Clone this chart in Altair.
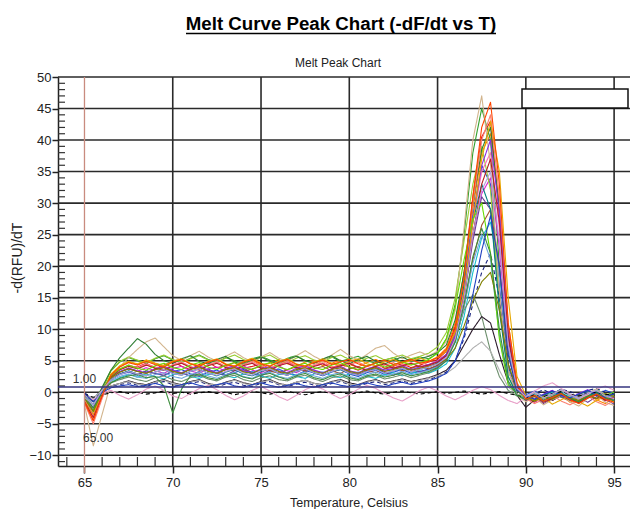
import altair as alt
import pandas as pd

temps = [65.0, 65.5, 66.0, 66.5, 67.0, 67.5, 68.0, 68.5, 69.0, 69.5, 70.0, 70.5, 71.0, 71.5, 72.0,
         72.5, 73.0, 73.5, 74.0, 74.5, 75.0, 75.5, 76.0, 76.5, 77.0, 77.5, 78.0, 78.5, 79.0, 79.5,
         80.0, 80.5, 81.0, 81.5, 82.0, 82.5, 83.0, 83.5, 84.0, 84.5, 85.0, 85.5, 86.0, 86.5, 87.0,
         87.5, 88.0, 88.5, 89.0, 89.5, 90.0, 90.5, 91.0, 91.5, 92.0, 92.5, 93.0, 93.5, 94.0, 94.5, 95.0]

c01 = [-1.5, -4.5, -0.5, 2.5, 3.6,
       4.2, 4.0, 4.6, 3.8, 4.3, 4.9,
       4.1, 3.6, 4.4, 4.8, 3.9, 4.2, 4.7, 3.8, 4.1, 4.5,
       3.7, 4.3, 4.9, 4.0, 3.6, 4.2, 4.6, 3.9, 4.4, 4.0,
       3.5, 4.1, 4.6, 3.8, 4.2, 4.5, 3.9, 4.3, 4.8, 5.2,
       6.5, 10.5, 19.0, 31.0, 40.5, 43.0, 28.0, 8.5, 1.0,
       -1.2, -0.5, -1.0, -0.3, -0.8, -1.4, -0.6, -0.2, -1.0, -0.7, -1.3]
c02 = [-1.2, -4.0, -0.2, 2.8, 4.1,
       4.8, 4.4, 5.1, 4.6, 4.2, 4.9,
       5.3, 4.5, 4.1, 4.8, 5.2, 4.4, 4.0, 4.7, 5.1, 4.3,
       4.6, 5.2, 4.5, 4.1, 4.8, 5.0, 4.2, 4.6, 5.1, 4.4,
       4.0, 4.7, 5.2, 4.5, 4.1, 4.8, 5.3, 4.6, 4.9, 5.6,
       7.0, 11.0, 18.5, 29.0, 38.0, 41.0, 30.0, 11.0, 1.5,
       -0.8, -1.5, -0.6, -1.1, -0.4, -1.6, -0.9, -0.3, -1.2, -1.8, -0.8]
c03 = [-0.8, -3.0, 0.5, 3.4, 4.8,
       5.5, 5.0, 4.6, 5.3, 5.8, 5.1,
       4.7, 5.4, 5.9, 5.2, 4.8, 5.5, 5.0, 4.6, 5.3, 5.7,
       5.1, 4.7, 5.4, 5.8, 5.0, 4.6, 5.2, 5.6, 4.9, 5.3,
       5.7, 5.0, 4.6, 5.1, 5.5, 4.8, 5.2, 5.6, 5.3, 6.2,
       8.5, 14.0, 25.0, 38.0, 45.0, 40.0, 20.0, 4.5, 0.2,
       -0.9, -0.3, -1.2, -0.6, -0.1, -0.9, -1.4, -0.5, -0.2, -1.0, -0.4]
c04 = [-0.5, -2.0, 0.3, 2.0, 2.8,
       3.2, 2.7, 3.4, 3.0, 2.6, 3.3,
       3.6, 2.9, 2.5, 3.2, 3.5, 2.8, 3.1, 3.6, 2.9, 2.6,
       3.3, 3.7, 3.0, 2.7, 3.4, 3.1, 2.6, 3.2, 3.6, 2.9,
       2.5, 3.1, 3.5, 2.8, 3.2, 3.6, 3.0, 3.3, 3.7, 4.2,
       5.5, 9.0, 17.0, 28.0, 36.0, 33.0, 17.0, 4.0, 0.5,
       -0.4, 0.2, -0.7, -0.2, 0.4, -0.3, -0.8, 0.1, -0.5, 0.3, -0.2]
c05 = [-1.0, -3.5, -0.2, 2.2, 3.2,
       3.7, 3.3, 3.9, 3.4, 3.0, 3.8,
       4.1, 3.4, 3.0, 3.7, 4.0, 3.3, 3.6, 4.2, 3.5, 3.1,
       3.8, 4.2, 3.4, 3.1, 3.8, 3.5, 3.0, 3.7, 4.1, 3.3,
       3.0, 3.6, 4.0, 3.3, 3.7, 4.1, 3.5, 3.8, 4.2, 4.6,
       5.8, 9.0, 15.5, 25.0, 31.5, 34.0, 23.0, 7.0, 0.8,
       -1.0, -1.6, -0.8, -1.3, -0.5, -1.1, -1.7, -0.9, -0.4, -1.2, -0.6]
c06 = [-0.6, -2.5, 0.0, 1.6, 2.3,
       2.8, 2.4, 2.9, 2.5, 2.1, 2.8,
       3.1, 2.5, 2.2, 2.8, 3.2, 2.6, 2.3, 2.9, 3.3, 2.6,
       2.2, 2.8, 3.1, 2.5, 2.2, 2.9, 3.2, 2.6, 2.3, 2.9,
       3.2, 2.5, 2.2, 2.8, 3.1, 2.6, 3.0, 3.4, 3.0, 3.6,
       4.5, 7.0, 12.0, 19.0, 24.5, 27.0, 19.0, 6.5, 0.8,
       -0.6, -1.2, -0.5, 0.0, -0.8, -0.3, -1.0, -0.4, 0.2, -0.6, -1.1]
c07 = [-0.4, -2.0, 0.4, 2.1, 2.9,
       3.3, 2.8, 3.4, 3.0, 2.7, 3.4,
       3.0, 2.6, 3.3, 3.7, 3.0, 2.7, 3.4, 3.8, 3.1, 2.8,
       3.5, 3.1, 2.7, 3.4, 3.8, 3.0, 2.7, 3.3, 3.7, 3.1,
       2.8, 3.4, 3.8, 3.1, 2.7, 3.3, 3.7, 3.2, 3.6, 4.0,
       5.2, 8.5, 15.0, 24.0, 31.0, 29.0, 15.0, 3.5, -0.2,
       -1.4, -0.7, -1.8, -1.0, -0.4, -1.3, -0.8, -1.6, -0.7, -1.1, -1.9]
c08 = [-1.0, -3.0, 0.6, 3.5, 4.9,
       5.6, 5.1, 4.7, 5.4, 5.9, 5.2,
       4.8, 5.3, 5.8, 5.1, 4.7, 5.4, 5.9, 5.2, 4.8, 5.5,
       5.9, 5.1, 4.7, 5.4, 5.8, 5.1, 4.8, 5.5, 5.9, 5.2,
       4.8, 5.4, 5.8, 5.1, 5.5, 5.9, 5.3, 5.7, 6.2, 7.2,
       9.5, 15.0, 24.0, 33.0, 39.0, 32.0, 14.0, 2.5, -0.3,
       -0.8, -0.2, -1.0, -0.4, 0.3, -0.5, -1.1, -0.3, 0.4, -0.6, -0.1]
c09 = [-1.3, -4.0, -0.4, 2.6, 3.7,
       4.3, 3.9, 4.5, 4.0, 3.6, 4.4,
       4.8, 4.1, 3.7, 4.4, 4.8, 4.0, 3.7, 4.3, 4.7, 4.0,
       3.6, 4.3, 4.7, 4.0, 3.6, 4.2, 4.6, 3.9, 4.3, 4.7,
       4.0, 3.6, 4.2, 4.6, 3.9, 4.3, 4.7, 4.1, 4.4, 5.0,
       6.0, 9.5, 16.5, 27.0, 35.0, 38.0, 26.0, 8.0, 0.6,
       -1.1, -0.4, -1.5, -0.9, -0.2, -1.0, -1.6, -0.8, -0.3, -1.4, -0.9]
c10 = [-0.9, -3.0, 0.1, 2.3, 3.2,
       3.8, 3.3, 3.0, 3.6, 4.0, 3.3,
       3.0, 3.7, 4.1, 3.4, 3.0, 3.6, 4.0, 3.3, 3.7, 4.1,
       3.4, 3.0, 3.6, 4.0, 3.3, 3.7, 4.1, 3.4, 3.0, 3.7,
       4.1, 3.4, 3.1, 3.7, 4.0, 3.4, 3.8, 4.2, 3.7, 4.3,
       5.3, 8.0, 13.5, 21.0, 26.5, 29.0, 20.0, 6.0, 0.4,
       -0.9, -1.5, -0.6, -1.2, -0.3, -0.9, -1.4, -0.5, -1.0, -0.2, -0.8]
c11 = [-0.3, -2.0, 0.5, 1.5, 2.0,
       2.4, 2.0, 1.7, 2.3, 2.6, 2.0,
       1.7, 2.3, 2.7, 2.1, 1.8, 2.4, 2.7, 2.0, 1.7, 2.3,
       2.6, 2.0, 1.8, 2.4, 2.7, 2.1, 1.7, 2.3, 2.6, 2.0,
       1.8, 2.4, 2.7, 2.1, 2.4, 2.8, 2.3, 2.7, 3.1, 3.8,
       5.0, 8.5, 13.0, 15.5, 12.0, 6.5, 2.5, 0.3, -0.6,
       -1.0, -0.4, -0.9, -0.2, 0.3, -0.5, -1.0, -0.3, 0.2, -0.6, -0.2]
c12 = [-0.2, -1.5, 0.2, 1.0, 1.4,
       1.8, 1.4, 1.2, 1.7, 2.0, 1.5,
       1.2, 1.7, 2.0, 1.4, 1.1, 1.6, 2.0, 1.5, 1.2, 1.7,
       2.0, 1.4, 1.1, 1.6, 1.9, 1.4, 1.2, 1.7, 2.0, 1.5,
       1.2, 1.7, 2.0, 1.5, 1.8, 2.1, 1.7, 2.0, 2.3, 2.8,
       3.5, 5.0, 7.5, 10.0, 12.0, 11.0, 6.0, 1.5, -0.5,
       -2.4, -1.2, -0.9, -1.3, -0.5, -1.0, -1.6, -0.8, -0.4, -1.2, -0.7]
c13 = [-0.1, -1.0, 0.4, 1.0, 1.2,
       1.5, 1.1, 0.9, 1.4, 1.7, 1.2,
       1.0, 1.4, 1.7, 1.2, 0.9, 1.3, 1.6, 1.1, 0.9, 1.4,
       1.7, 1.2, 0.9, 1.3, 1.6, 1.1, 0.9, 1.4, 1.7, 1.2,
       1.0, 1.4, 1.7, 1.2, 1.5, 1.8, 1.4, 1.7, 2.0, 2.5,
       3.2, 5.0, 8.5, 14.0, 19.0, 22.0, 15.0, 4.5, 0.2,
       -0.7, -0.2, 0.4, -0.3, 0.5, 0.1, -0.4, 0.3, 0.6, 0.0, -0.5]
c14 = [-2.0, -8.5, -3.5, 1.5, 4.0,
       5.5, 6.8, 8.0, 8.6, 7.2, 5.8,
       5.0, 5.8, 6.5, 5.6, 4.9, 5.7, 6.4, 5.5, 4.8, 5.6,
       6.3, 5.4, 4.9, 5.8, 6.6, 5.7, 5.0, 5.9, 6.8, 5.8,
       5.1, 6.0, 7.0, 7.4, 6.2, 5.3, 5.9, 6.4, 5.8, 6.5,
       8.0, 13.0, 26.0, 40.0, 47.0, 36.0, 16.0, 3.5, -0.5,
       -1.5, -0.8, -2.0, -1.2, -0.5, -1.5, -2.2, -1.0, -0.4, -1.6, -2.1]
c15 = [-0.8, -2.0, 0.8, 3.5, 5.5,
       7.0, 8.5, 7.6, 6.0, 5.0, 4.6,
       5.3, 5.8, 4.9, 4.5, 5.2, 5.7, 4.8, 4.4, 5.1, 5.6,
       4.9, 4.5, 5.2, 5.7, 5.0, 4.6, 5.3, 5.8, 5.0, 4.5,
       5.2, 5.7, 4.9, 4.5, 5.1, 5.6, 4.9, 5.3, 5.7, 6.3,
       7.5, 11.5, 19.0, 30.0, 38.5, 42.0, 29.0, 9.0, 0.8,
       -0.6, -1.3, -0.5, 0.2, -0.7, -1.2, -0.4, 0.3, -0.5, -1.0, -0.3]
c16 = [-1.8, -5.0, -1.0, 2.3, 3.6,
       4.2, 3.8, 4.4, 4.0, 3.6, 4.3,
       4.7, 4.0, 3.6, 4.3, 4.8, 4.1, 3.7, 4.4, 4.9, 4.2,
       3.8, 4.5, 5.0, 4.2, 3.8, 4.4, 4.9, 4.1, 3.7, 4.4,
       4.8, 4.1, 3.7, 4.3, 4.7, 4.0, 4.4, 4.8, 4.3, 4.9,
       6.0, 9.5, 17.5, 30.0, 40.0, 44.0, 31.0, 10.0, 1.0,
       -1.0, -1.8, -1.1, -0.5, -1.4, -2.0, -1.2, -0.6, -1.5, -2.1, -1.3]
c17 = [-0.7, -3.0, 0.0, 2.0, 2.9,
       3.4, 2.9, 2.6, 3.2, 3.6, 3.0,
       2.7, 3.3, 3.7, 3.0, 2.6, 3.2, 3.6, 2.9, 2.6, 3.3,
       3.7, 3.0, 2.7, 3.3, 3.7, 3.1, 2.7, 3.3, 3.6, 3.0,
       2.7, 3.3, 3.7, 3.0, 3.4, 3.8, 3.2, 3.6, 4.0, 4.6,
       6.0, 9.5, 17.0, 27.0, 33.0, 29.0, 13.0, 2.5, -0.4,
       -1.1, -0.5, -1.3, -0.7, -0.1, -0.9, -1.5, -0.6, -0.1, -0.8, -1.4]
c18 = [-1.1, -2.5, 0.4, 2.5, 3.3,
       3.8, 3.4, 3.1, 3.7, 4.1, 3.5,
       3.1, 3.7, 4.2, 3.5, 3.1, 3.8, 4.2, 3.4, 3.1, 3.7,
       4.1, 3.4, 3.1, 3.8, 4.2, 3.5, 3.1, 3.7, 4.1, 3.4,
       3.1, 3.7, 4.1, 3.5, 3.8, 4.2, 3.6, 4.0, 4.4, 4.9,
       6.0, 9.0, 16.0, 27.5, 36.0, 40.0, 28.5, 9.5, 1.2,
       -0.5, -1.1, -0.3, 0.3, -0.6, -1.0, -0.2, 0.4, -0.4, -0.9, -0.1]
c19 = [-1.4, -3.5, 0.0, 2.9, 4.2,
       4.9, 4.5, 5.1, 4.6, 4.2, 4.9,
       5.3, 4.6, 4.2, 4.9, 5.3, 4.5, 4.2, 4.9, 5.4, 4.6,
       4.2, 4.9, 5.3, 4.5, 4.2, 4.8, 5.3, 4.6, 4.2, 4.9,
       5.3, 4.5, 4.2, 4.8, 5.2, 4.6, 5.0, 5.4, 4.9, 5.5,
       6.5, 9.5, 16.0, 27.0, 37.0, 43.0, 35.0, 15.0, 2.5,
       -0.5, -1.4, -0.8, -1.9, -1.2, -0.6, -1.5, -2.2, -1.3, -0.7, -1.6]
c20 = [-0.5, -2.0, 0.3, 1.8, 2.5,
       2.9, 2.4, 2.2, 2.8, 3.1, 2.5,
       2.2, 2.8, 3.2, 2.6, 2.2, 2.8, 3.1, 2.5, 2.2, 2.9,
       3.2, 2.5, 2.2, 2.8, 3.2, 2.6, 2.2, 2.8, 3.1, 2.5,
       2.2, 2.8, 3.2, 2.6, 2.9, 3.3, 2.8, 3.1, 3.5, 4.0,
       5.0, 8.0, 13.5, 20.5, 25.0, 21.0, 9.0, 1.5, -0.5,
       -0.9, -0.3, -1.0, -0.4, 0.2, -0.6, -1.1, -0.3, 0.3, -0.5, -0.9]
c21 = [-1.5, -4.0, -0.6, 2.4, 3.6,
       4.1, 3.7, 4.3, 3.8, 3.5, 4.2,
       4.6, 3.9, 3.5, 4.2, 4.6, 3.9, 3.5, 4.2, 4.6, 3.8,
       3.5, 4.2, 4.6, 3.9, 3.5, 4.1, 4.5, 3.8, 4.2, 4.6,
       3.9, 3.5, 4.1, 4.5, 3.8, 4.2, 4.6, 4.0, 4.3, 4.8,
       5.8, 8.5, 15.0, 25.0, 33.0, 37.0, 27.0, 9.0, 0.9,
       -1.2, -0.6, -1.6, -1.0, -0.3, -1.1, -1.7, -0.9, -0.4, -1.3, -0.8]
c22 = [-0.9, -3.0, 0.2, 2.6, 3.7,
       4.3, 3.8, 3.5, 4.2, 4.6, 3.9,
       3.6, 4.3, 4.7, 4.0, 3.6, 4.3, 4.7, 3.9, 3.6, 4.3,
       4.7, 4.0, 3.6, 4.2, 4.6, 3.9, 3.6, 4.3, 4.7, 4.0,
       3.6, 4.2, 4.6, 4.0, 4.4, 4.8, 4.3, 4.7, 5.2, 6.2,
       8.5, 13.5, 21.0, 27.5, 30.0, 22.0, 8.5, 1.2, -0.4,
       -0.7, -0.1, -0.9, -0.3, 0.4, -0.4, -1.0, -0.2, 0.5, -0.5, 0.0]
c23 = [-0.3, -1.0, 0.3, 1.0, 1.4,
       1.7, 1.3, 1.1, 1.6, 1.9, 1.4,
       1.1, 1.6, 1.9, 1.3, 1.1, 1.5, 1.9, 1.4, 1.1, 1.6,
       1.9, 1.3, 1.1, 1.6, 1.9, 1.4, 1.1, 1.6, 1.9, 1.3,
       1.1, 1.6, 1.9, 1.4, 1.7, 2.0, 1.6, 1.9, 2.2, 2.6,
       3.0, 4.0, 5.5, 7.0, 8.0, 6.5, 3.5, 0.8, -0.3,
       -0.6, 0.0, -0.7, -0.2, 0.3, -0.4, -0.8, -0.1, 0.4, -0.3, -0.7]
c24 = [-0.9, -3.0, 0.1, 2.3, 3.2,
       3.7, 3.3, 3.0, 3.6, 3.9, 3.3,
       3.0, 3.6, 4.0, 3.3, 3.0, 3.6, 3.9, 3.2, 3.0, 3.6,
       3.9, 3.3, 3.0, 3.6, 3.9, 3.3, 3.0, 3.6, 3.9, 3.3,
       3.0, 3.6, 3.9, 3.3, 3.6, 4.0, 3.5, 3.8, 4.1, 4.5,
       5.2, 7.0, 10.5, 14.5, 17.5, 19.0, 13.0, 4.5, 0.3,
       -0.8, -1.4, -0.6, -1.1, -0.3, -0.9, -1.3, -0.5, -1.0, -0.2, -0.7]
c25 = [-0.3, -0.8, -0.4, -0.1, 0.1,
       -0.2, 0.0, -0.3, -0.1, 0.2, -0.2,
       0.0, -0.3, -0.1, 0.1, -0.2, 0.0, -0.4, -0.1, 0.2, -0.1,
       -0.3, 0.0, 0.2, -0.2, -0.4, -0.1, 0.1, -0.2, 0.0, -0.3,
       -0.1, 0.2, -0.1, -0.3, 0.0, 0.2, -0.1, -0.3, -0.1, 0.1,
       -0.2, 0.0, 0.2, -0.1, -0.3, -0.1, 0.1, -0.2, -0.5,
       -0.9, -0.4, -0.7, -0.2, 0.1, -0.3, -0.6, -0.2, 0.0, -0.4, -0.2]
c26 = [-0.5, -1.2, -0.2, 0.3, -0.5,
       -1.1, -0.4, 0.5, 1.0, 0.3, -0.6,
       -1.0, -0.2, 0.6, 1.1, 0.4, -0.5, -1.2, -0.6, 0.3, 0.9,
       0.2, -0.7, -1.3, -0.5, 0.4, 1.0, 0.5, -0.3, -1.0, -0.4,
       0.5, 1.1, 0.6, -0.2, -0.9, -1.4, -0.6, 0.3, 0.8, 0.2,
       -0.6, -1.2, -0.5, 0.3, 0.9, 0.4, -0.5, -1.3, -1.8,
       -0.8, 0.2, 1.0, 1.5, 0.6, -0.3, -1.0, -0.4, 0.5, 1.0, 0.3]
c27 = [-0.6, -2.5, 0.0, 1.5, 2.2,
       2.6, 2.8, 2.3, 2.5, 1.0, -3.3,
       0.5, 2.6, 2.9, 2.3, 2.0, 2.6, 3.0, 2.4, 2.1, 2.7,
       3.0, 2.4, 2.0, 2.6, 3.0, 2.3, 2.0, 2.6, 2.9, 2.3,
       2.0, 2.6, 2.9, 2.4, 2.7, 3.1, 2.6, 2.9, 3.3, 3.9,
       5.0, 8.0, 14.0, 21.5, 26.0, 22.0, 10.0, 1.8, -0.5,
       -1.2, -0.6, -1.4, -0.8, -0.2, -1.0, -1.5, -0.7, -0.2, -0.9, -1.3]
c28 = [-0.2, -1.5, 0.0, 0.7, 1.0,
       1.2, 0.9, 1.1, 1.4, 1.0, 0.8,
       1.2, 1.5, 1.1, 0.8, 1.2, 1.5, 1.0, 0.8, 1.2, 1.5,
       1.1, 0.8, 1.1, 1.4, 1.0, 0.8, 1.2, 1.5, 1.1, 0.9,
       1.2, 1.5, 1.1, 0.9, 1.3, 1.6, 1.2, 1.5, 1.8, 2.3,
       3.0, 5.0, 9.0, 15.5, 22.5, 28.0, 20.0, 6.0, 0.3,
       -0.6, -1.1, -0.4, 0.2, -0.5, -0.9, -0.3, 0.3, -0.4, -0.8, -0.2]
c29 = [-1.6, -4.5, -0.5, 2.7, 4.0,
       4.7, 4.3, 4.9, 4.4, 4.0, 4.8,
       5.2, 4.5, 4.1, 4.8, 5.2, 4.4, 4.1, 4.8, 5.2, 4.5,
       4.1, 4.8, 5.2, 4.4, 4.1, 4.7, 5.1, 4.4, 4.8, 5.2,
       4.5, 4.1, 4.7, 5.1, 4.4, 4.8, 5.2, 4.6, 4.9, 5.5,
       6.8, 10.0, 18.0, 31.0, 42.0, 46.0, 33.0, 11.0, 1.2,
       -1.1, -0.5, -1.4, -0.8, -0.2, -1.2, -1.8, -0.9, -0.3, -1.1, -1.6]
c30 = [-0.8, -2.0, 0.3, 2.0, 2.8,
       3.3, 2.9, 2.6, 3.2, 3.6, 3.0,
       2.7, 3.3, 3.7, 3.0, 2.7, 3.3, 3.7, 3.0, 2.7, 3.4,
       3.7, 3.0, 2.7, 3.3, 3.7, 3.1, 2.7, 3.3, 3.7, 3.0,
       2.7, 3.3, 3.6, 3.0, 3.4, 3.8, 3.2, 3.6, 4.0, 4.5,
       5.5, 8.5, 15.0, 25.0, 32.0, 35.0, 24.0, 7.5, 0.6,
       -0.7, -0.1, -0.9, -0.3, 0.4, -0.4, -1.0, -0.2, 0.3, -0.6, -1.0]

series = [c01, c02, c03, c04, c05, c06, c07, c08, c09, c10, c11, c12, c13, c14, c15,
          c16, c17, c18, c19, c20, c21, c22, c23, c24, c25, c26, c27, c28, c29, c30]
well_names = ["A01", "A02", "A03", "A04", "A05", "A06", "A07", "A08", "A09", "A10",
              "B01", "B02", "B03", "B04", "B05", "B06", "B07", "B08", "B09", "B10",
              "C01", "C02", "C03", "C04", "C05", "C06", "C07", "C08", "C09", "C10"]
well_colors = ["#e41a1c", "#ff7f00", "#33a02c", "#1f4fd6", "#e01fd0", "#17becf", "#6a3d9a",
               "#9acd32", "#ff69b4", "#a0522d", "#6b8e6b", "#2b1b2b", "#1a237e", "#d2b48c",
               "#2e7d32", "#fa8072", "#008080", "#8a2be2", "#e6a800", "#6fa8dc", "#b22222",
               "#66dd00", "#b0b0b0", "#808000", "#000000", "#e8a0c8", "#3c8d3c", "#2040c0",
               "#ff4500", "#b39ddb"]
dashed_wells = ["B03", "C05"]

x_ticks = [65, 70, 75, 80, 85, 90, 95]
y_ticks = [-10, -5, 0, 5, 10, 15, 20, 25, 30, 35, 40, 45, 50]
grid_x = [70, 75, 80, 85, 90, 95]
grid_y = y_ticks
minor_x = [v for v in range(64, 96) if v % 5 != 0]
minor_y = [v for v in range(-11, 50) if v % 5 != 0]
threshold_y = [0.85]
marker_x = [65.0]

rows = []
for name, vals in zip(well_names, series):
    if len(vals) != len(temps):
        raise ValueError(f"{name} has {len(vals)} values")
    for t, v in zip(temps, vals):
        rows.append({"T": t, "v": v, "well": name,
                     "dash": "dash" if name in dashed_wells else "solid"})
df = pd.DataFrame(rows)

FONT = "Liberation Sans"
INK = "#222222"
W, H = 572, 389

xs = alt.Scale(domain=[63.5, 95.9], nice=False, zero=False)
ys = alt.Scale(domain=[-11.7, 50], nice=False, zero=False)
x_axis = alt.Axis(values=x_ticks, title=None, grid=False, tickSize=7, tickWidth=1.5,
                  tickColor=INK, domainColor=INK, domainWidth=1.5, labelFont=FONT,
                  labelFontSize=13, labelColor=INK, labelPadding=3)
y_axis = alt.Axis(values=y_ticks, title=None, grid=False, tickSize=6, tickWidth=1.5,
                  tickColor=INK, domainColor=INK, domainWidth=1.5, labelFont=FONT,
                  labelFontSize=13, labelColor=INK, labelPadding=1)
one = pd.DataFrame({"k": [0]})


def X(field):
    return alt.X(field, scale=xs, axis=x_axis)


def Y(field):
    return alt.Y(field, scale=ys, axis=y_axis)


hgrid = alt.Chart(pd.DataFrame({"gy": grid_y})).mark_rule(color="#2a2a2a", strokeWidth=1.6).encode(
    y=Y("gy:Q"))
vgrid = alt.Chart(pd.DataFrame({"gx": grid_x})).mark_rule(color="#2a2a2a", strokeWidth=1.6).encode(
    x=X("gx:Q"))
miny = alt.Chart(pd.DataFrame({"my": minor_y})).mark_rule(color="#333333", strokeWidth=1.2).encode(
    y=Y("my:Q"), x=alt.value(0), x2=alt.value(7))
minx = alt.Chart(pd.DataFrame({"mx": minor_x})).mark_rule(color="#333333", strokeWidth=1.2).encode(
    x=X("mx:Q"), y=alt.value(H - 9), y2=alt.value(H))

lines = alt.Chart(df).mark_line(strokeWidth=1.1, strokeJoin="round").encode(
    x=X("T:Q"),
    y=Y("v:Q"),
    color=alt.Color("well:N", scale=alt.Scale(domain=well_names, range=well_colors), legend=None),
    strokeDash=alt.StrokeDash("dash:N", scale=alt.Scale(domain=["solid", "dash"],
                                                        range=[[1, 0], [4, 3]]), legend=None),
    detail="well:N",
)

threshold = alt.Chart(pd.DataFrame({"th": threshold_y})).mark_rule(color="#35357f", strokeWidth=1.5).encode(
    y=Y("th:Q"))
marker = alt.Chart(pd.DataFrame({"sx": marker_x})).mark_rule(color="#c98b7f", strokeWidth=1.3).encode(
    x=X("sx:Q"), y=alt.value(0), y2=alt.value(H + 7))

thr_label = alt.Chart(pd.DataFrame({"x": [65.0], "y": [2.1], "t": ["1.00"]})).mark_text(
    font=FONT, fontSize=12, color="#333333", align="center", baseline="middle").encode(
    x=X("x:Q"), y=Y("y:Q"), text="t:N")
mk_label = alt.Chart(pd.DataFrame({"x": [64.92], "y": [-7.3], "t": ["65.00"]})).mark_text(
    font=FONT, fontSize=12, color="#333333", align="left", baseline="middle").encode(
    x=X("x:Q"), y=Y("y:Q"), text="t:N")

legend_box = alt.Chart(one).mark_rect(fill="white", stroke="#111111", strokeWidth=1.5).encode(
    x=alt.value(464), x2=alt.value(570), y=alt.value(12), y2=alt.value(31))

title = alt.Chart(one).mark_text(font=FONT, fontSize=18.7, fontWeight="bold", color="#000000",
                                 align="center", baseline="alphabetic").encode(
    x=alt.value(283), y=alt.value(-47), text=alt.value("Melt Curve Peak Chart (-dF/dt vs T)"))
underline = alt.Chart(one).mark_rule(color="#000000", strokeWidth=1.6).encode(
    x=alt.value(128), x2=alt.value(438), y=alt.value(-43.5))
subtitle = alt.Chart(one).mark_text(font=FONT, fontSize=12, color="#222222",
                                    align="center", baseline="alphabetic").encode(
    x=alt.value(280), y=alt.value(-10), text=alt.value("Melt Peak Chart"))
ytitle = alt.Chart(one).mark_text(font=FONT, fontSize=14, color="#222222", angle=270,
                                  align="center", baseline="middle").encode(
    x=alt.value(-40), y=alt.value(181), text=alt.value("-d(RFU)/dT"))
xtitle = alt.Chart(one).mark_text(font=FONT, fontSize=12.5, color="#222222",
                                  align="center", baseline="alphabetic").encode(
    x=alt.value(291), y=alt.value(H + 41), text=alt.value("Temperature, Celsius"))

chart = alt.layer(
    hgrid, vgrid, miny, minx, lines, threshold, marker, thr_label, mk_label,
    legend_box, title, underline, subtitle, ytitle, xtitle
).properties(
    width=W, height=H,
    padding={"left": 50, "top": 69, "right": 0, "bottom": 43},
    autosize=alt.AutoSizeParams(type="none"),
    background="white",
).configure_view(stroke=None)

chart.save("out.html", embed_options={"renderer": "svg", "actions": False})
